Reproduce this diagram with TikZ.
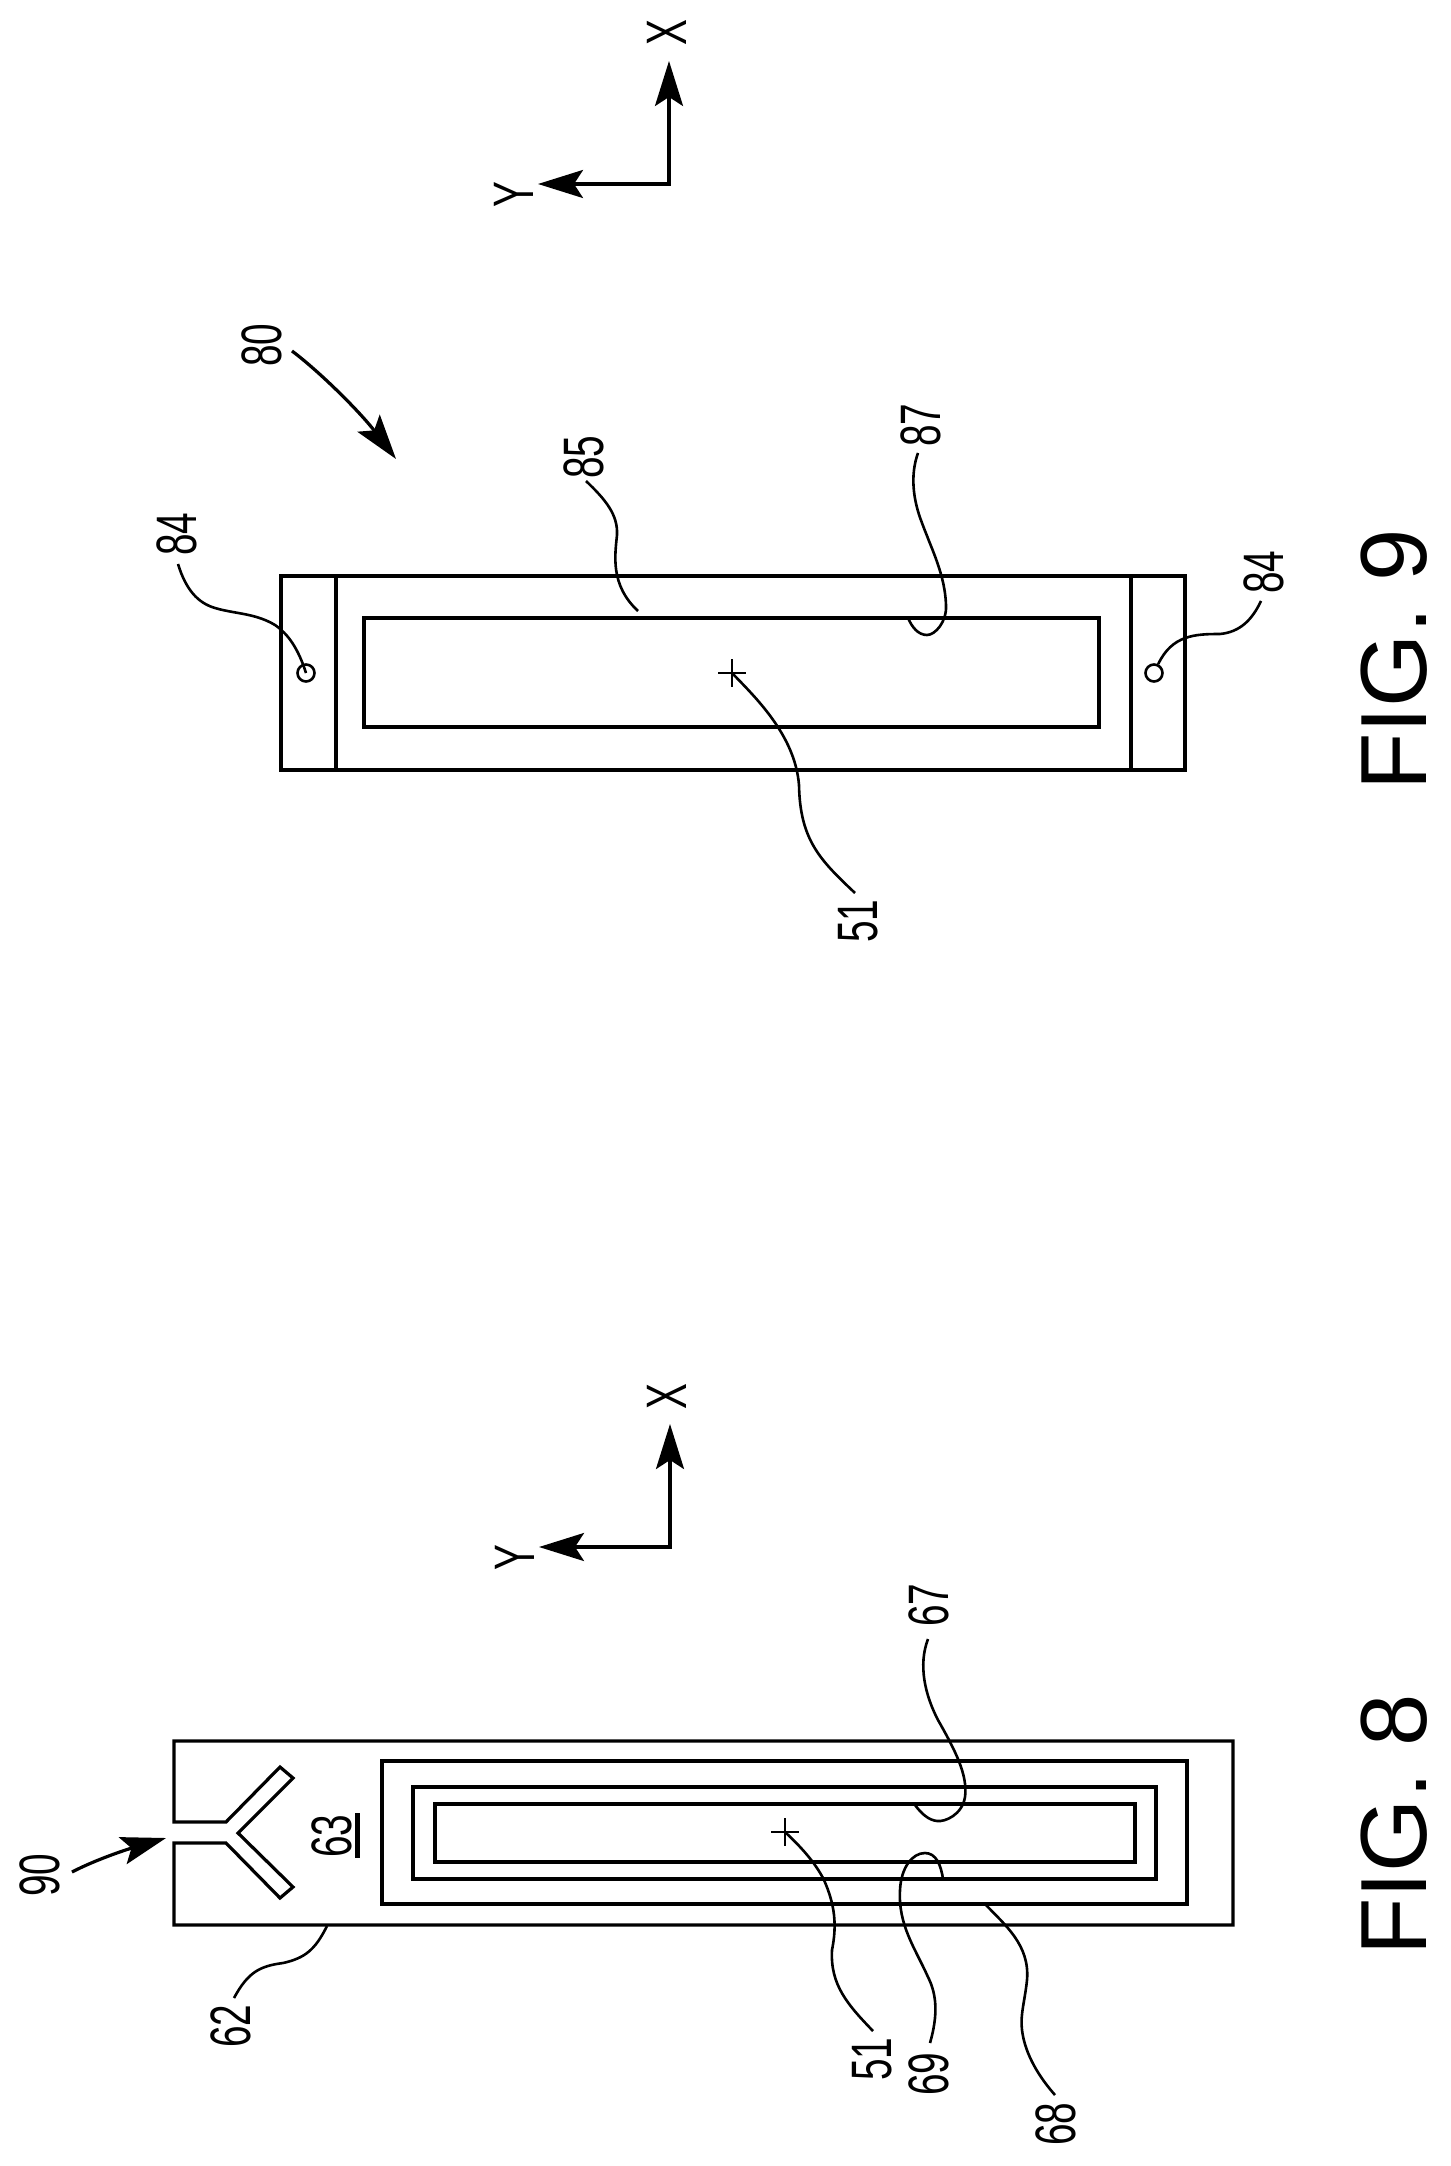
\documentclass[tikz,border=0pt]{standalone}
\usepackage{fontspec}
\usepackage{xcolor}
\usepackage{tikz}
\usetikzlibrary{arrows.meta,shapes.misc}
\newfontfamily\numfont[FakeStretch=0.68]{Liberation Sans}
\newfontfamily\figfont{Liberation Sans}

\begin{document}
\begin{tikzpicture}[
    x=0.5pt, y=-0.5pt,
    part/.style={draw, line width=1.6pt, line join=miter},
    leader/.style={draw, line width=1.3pt},
    num/.style={rotate=90, inner sep=0pt, font=\numfont\fontsize{28.5}{30}\selectfont},
    figlabel/.style={rotate=90, inner sep=0pt, font=\figfont\fontsize{47}{50}\selectfont},
    bigtip/.style={line width=1.6pt, -{Stealth[length=22.5pt, width=14pt, inset=4.5pt]}},
    axis/.style={line width=1.6pt, {Stealth[length=22.5pt, width=14pt, inset=4.5pt]}-{Stealth[length=22.5pt, width=14pt, inset=4.5pt]}},
    hole/.style={circle, draw, line width=1.3pt, minimum size=8.5pt, inner sep=0pt},
    centermark/.style={cross out, draw, rotate=45, line width=1.3pt, minimum size=8.5pt, inner sep=0pt}
]
\useasboundingbox (0,0) rectangle (1450,2166);

% FIG. 9 - Axes
\coordinate (o9) at (669,184);
\coordinate (xtip9) at (669,61);
\coordinate (ytip9) at (538,184);
\draw[axis] (ytip9) -- (o9) -- (xtip9);
\node[num] (x9) at (667,33) {X};
\node[num] (y9) at (514,195) {Y};

% FIG. 9 - Part
\draw[part] (281,576) rectangle (1185,770);
\draw[part] (336,576) -- (336,770);
\draw[part] (1131,576) -- (1131,770);
\draw[part] (364,618) rectangle (1099,727);
\node[hole] (hole9a) at (306,673) {};
\node[hole] (hole9b) at (1154,673) {};
\node[centermark] (mark9) at (732,673) {};

% FIG. 9 - Labels
\node[num] (n80) at (262,345) {80};
\node[num] (n85) at (584,457) {85};
\node[num] (n87) at (921,425) {87};
\node[num] (n84a) at (177,534) {84};
\node[num] (n84b) at (1264,572) {84};
\node[num] (n51a) at (858,921) {51};
\node[figlabel] (fig9) at (1394.5,660) {FIG. 9};

% FIG. 9 - Leaders
\coordinate (s80) at (292,351);
\coordinate (e80) at (396,459);
\draw[bigtip] (s80) .. controls (320,372) and (360,412) .. (e80);
\coordinate (s85) at (586,481);
\coordinate (e85) at (638,611);
\draw[leader] (s85) .. controls (606,500) and (618,515) .. (617,535) .. controls (615,555) and (610,585) .. (e85);
\coordinate (s87) at (918,453);
\coordinate (e87) at (908,618);
\draw[leader] (s87) .. controls (910,475) and (913,500) .. (922,523) .. controls (932,550) and (945,575) .. (946,605) .. controls (947,622) and (935,635) .. (927,635) .. controls (918,635) and (912,627) .. (e87);
\coordinate (s84a) at (178,564);
\draw[leader] (s84a) .. controls (186,590) and (198,603) .. (215,608) .. controls (235,614) and (255,613) .. (275,625) .. controls (288,634) and (298,648) .. (hole9a.center);
\coordinate (s84b) at (1261,601);
\draw[leader] (s84b) .. controls (1252,620) and (1240,632) .. (1220,634) .. controls (1195,634) and (1172,635) .. (hole9b);
\coordinate (s51a) at (855,893);
\draw[leader] (s51a) .. controls (820,860) and (800,840) .. (799,785) .. controls (795,735) and (755,697) .. (mark9.center);

% FIG. 8 - Axes
\coordinate (o8) at (670,1547);
\coordinate (xtip8) at (670,1424);
\coordinate (ytip8) at (539,1547);
\draw[axis] (ytip8) -- (o8) -- (xtip8);
\node[num] (x8) at (667,1397) {X};
\node[num] (y8) at (514.5,1558) {Y};

% FIG. 8 - Part with slot
\draw[part] (174,1822) -- (174,1741) -- (1233,1741) -- (1233,1925) -- (174,1925) -- (174,1843)
    -- (226,1843) -- (280,1898) -- (293,1887) -- (238,1833) -- (293,1778) -- (280,1767) -- (226,1822) -- cycle;
\draw[part] (382,1761) rectangle (1187,1904);
\draw[part] (413,1787) rectangle (1156,1879);
\draw[part] (435,1804) rectangle (1135,1862);
\node[centermark] (mark8) at (785,1832) {};

% FIG. 8 - Labels
\node[num] (n90) at (40,1875) {90};
\node[num] (n62) at (231,2026) {62};
\node[num] (n63) at (332,1836) {63};
\draw[line width=2.5pt] (357,1813) -- (357,1858);
\node[num] (n67) at (929,1605) {67};
\node[num] (n51b) at (872,2059) {51};
\node[num] (n69) at (929,2074) {69};
\node[num] (n68) at (1056,2124) {68};
\node[figlabel] (fig8) at (1394.5,1825) {FIG. 8};

% FIG. 8 - Leaders
\coordinate (s90) at (72,1872);
\coordinate (e90) at (166,1838);
\draw[bigtip] (s90) .. controls (95,1860) and (125,1850) .. (e90);
\coordinate (s62) at (234,1998);
\coordinate (e62) at (327,1926);
\draw[leader] (s62) .. controls (248,1972) and (260,1966) .. (283,1963) .. controls (305,1958) and (315,1950) .. (e62);
\coordinate (s67) at (928,1639);
\coordinate (e67) at (915,1805);
\draw[leader] (s67) .. controls (918,1665) and (925,1695) .. (938,1720) .. controls (955,1750) and (968,1775) .. (965,1797) .. controls (962,1815) and (945,1822) .. (937,1821) .. controls (928,1820) and (921,1813) .. (e67);
\coordinate (s51b) at (873,2031);
\draw[leader] (s51b) .. controls (848,2005) and (830,1985) .. (832,1950) .. controls (837,1925) and (835,1905) .. (824,1880) .. controls (815,1862) and (800,1846) .. (mark8.center);
\coordinate (s69) at (930,2043);
\coordinate (e69) at (943,1879);
\draw[leader] (s69) .. controls (938,2015) and (937,1995) .. (928,1977) .. controls (915,1948) and (898,1925) .. (900,1890) .. controls (901,1868) and (912,1853) .. (925,1853) .. controls (936,1853) and (941,1865) .. (e69);
\coordinate (s68) at (1055,2095);
\coordinate (e68) at (985,1904);
\draw[leader] (s68) .. controls (1040,2078) and (1025,2055) .. (1022,2030) .. controls (1020,2015) and (1025,2000) .. (1027,1980) .. controls (1030,1945) and (1005,1925) .. (e68);

\end{tikzpicture}
\end{document}
